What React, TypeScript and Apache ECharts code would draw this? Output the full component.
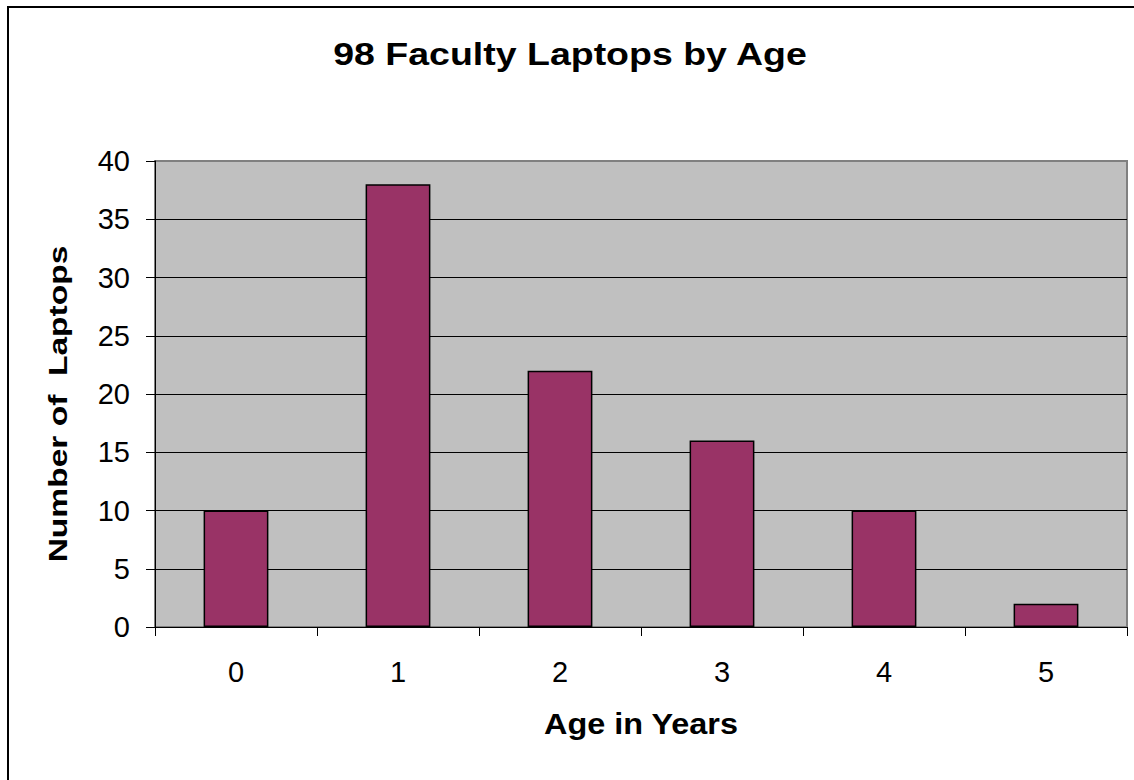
import React, { useEffect, useRef } from "react";
import * as echarts from "echarts";

const titleText = "98 Faculty Laptops by Age";
const xAxisTitle = "Age in Years";
const yAxisTitle = "Number of  Laptops";
const categories = ["0", "1", "2", "3", "4", "5"];
const laptopCounts = [10, 38, 22, 16, 10, 2];
const yMin = 0;
const yMax = 40;
const yInterval = 5;

const FONT = 'Arial, "Liberation Sans", sans-serif';

export default function App() {
  const ref = useRef<HTMLDivElement>(null);
  useEffect(() => {
    if (!ref.current) return;
    const chart = echarts.init(ref.current, null, { renderer: "svg" });
    chart.setOption({
      animation: false,
      backgroundColor: "#ffffff",
      grid: {
        left: 155,
        top: 161,
        right: 7,
        bottom: 153,
        show: true,
        backgroundColor: "#C0C0C0",
        borderColor: "#808080",
        borderWidth: 2,
        containLabel: false,
      },
      xAxis: {
        type: "category",
        data: categories,
        boundaryGap: true,
        axisLine: { show: true, lineStyle: { color: "#000000", width: 1 } },
        axisTick: { show: true, inside: false, length: 9, alignWithLabel: false, lineStyle: { color: "#000000" } },
        axisLabel: { color: "#000000", fontSize: 29, fontFamily: FONT, margin: 30 },
        splitLine: { show: false },
      },
      yAxis: {
        type: "value",
        min: yMin,
        max: yMax,
        interval: yInterval,
        axisLine: { show: true, lineStyle: { color: "#000000", width: 1 } },
        axisTick: { show: true, inside: false, length: 9, lineStyle: { color: "#000000" } },
        axisLabel: { color: "#000000", fontSize: 29, fontFamily: FONT, margin: 25 },
        splitLine: { show: true, showMaxLine: false, lineStyle: { color: "#000000", width: 1 } },
      },
      series: [
        {
          type: "bar",
          data: laptopCounts,
          barWidth: "40%",
          itemStyle: { color: "#993366", borderColor: "#000000", borderWidth: 1.5 },
        },
      ],
      graphic: [
        {
          type: "rect",
          shape: { x: 8, y: 7, width: 1200, height: 800 },
          style: { fill: "none", stroke: "#000000", lineWidth: 2 },
          silent: true,
        },
        {
          type: "text",
          x: 570,
          y: 54,
          scaleX: 1.21,
          style: {
            text: titleText,
            font: `bold 31px ${FONT}`,
            fill: "#000000",
            align: "center",
            verticalAlign: "middle",
          },
        },
        {
          type: "text",
          x: 641,
          y: 724,
          scaleX: 1.08,
          style: {
            text: xAxisTitle,
            font: `bold 30px ${FONT}`,
            fill: "#000000",
            align: "center",
            verticalAlign: "middle",
          },
        },
        {
          type: "text",
          x: 58,
          y: 404,
          rotation: Math.PI / 2,
          scaleX: 1.29,
          style: {
            text: yAxisTitle,
            font: `bold 26px ${FONT}`,
            fill: "#000000",
            align: "center",
            verticalAlign: "middle",
          },
        },
      ],
    });
    return () => chart.dispose();
  }, []);
  return (
    <div
      ref={ref}
      style={{ position: "fixed", left: 0, top: 0, width: 1134, height: 780, overflow: "hidden" }}
    />
  );
}
